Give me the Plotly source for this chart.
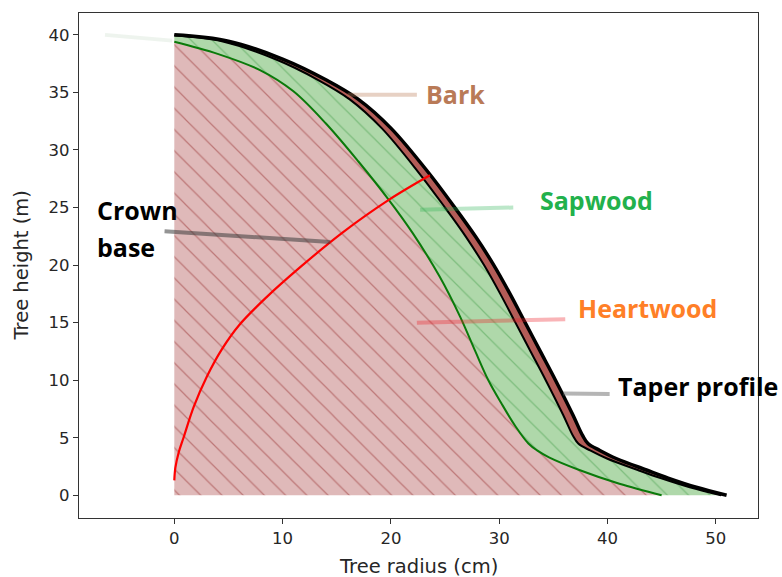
import plotly.graph_objects as go

# ---- data ----
taper_h = [0, 0.7, 1.5, 2.2, 3.2, 3.9, 4.5, 5.2, 7, 10, 12.5, 15, 17.5, 20, 22.5, 25, 28,
           31.9, 34.4, 36.1, 37.9, 39.45, 40]
outer_r = [51.0, 48.2, 45.6, 43.6, 40.8, 39.3, 38.2, 37.7, 36.8, 35.2, 33.8, 32.4, 31.0, 29.5,
           27.8, 25.9, 23.5, 20.0, 17.0, 14.0, 10.0, 5.0, 0.0]
inner_h = [0, 0.7, 1.5, 2.2, 3.2, 3.9, 4.5, 5.2, 7, 10, 12.5, 15, 17.5, 20, 22.5, 25, 28,
           31.9, 34.4, 36.1, 37.9, 39.45, 39.95]
inner_r = [50.5, 47.6, 44.9, 42.8, 39.95, 38.4, 37.3, 36.8, 35.9, 34.3, 32.9, 31.5, 30.1, 28.6,
           26.9, 25.0, 22.6, 19.15, 16.2, 13.25, 9.3, 4.4, 0.0]

heart_h = [0, 1, 2.2, 3.3, 3.9, 4.5, 6.0, 8, 10, 12.5, 15.5, 19, 22.8, 25.8, 29, 32.3, 35.1,
           36.9, 38.35, 39.4]
heart_r = [45.0, 41.1, 37.4, 34.6, 33.5, 32.7, 31.5, 30.2, 29.0, 27.8, 26.4, 24.5, 22.0, 19.7,
           17.0, 14.0, 11.0, 8.0, 4.0, 0.0]

crown_r = [0.0, 0.1, 0.4, 0.85, 1.8, 3.0, 4.4, 6.0, 8.5, 11.6, 15.5, 19.7, 23.6]
crown_h = [1.3, 2.4, 3.7, 5.0, 7.7, 10.3, 12.7, 14.8, 17.2, 19.8, 22.8, 25.6, 27.8]

x_ticks = [0, 10, 20, 30, 40, 50]
y_ticks = [0, 5, 10, 15, 20, 25, 30, 35, 40]

fig = go.Figure()

# heartwood (red hatched) and its boundary
fig.add_trace(go.Scatter(
    x=heart_r, y=heart_h, mode="lines", fill="tozerox",
    line=dict(color="#0a7a0a", width=2, shape="spline", smoothing=1.0),
    fillpattern=dict(shape="\\", size=15, solidity=0.08, fgcolor="#bd7777",
                     bgcolor="#dfb9b9", fillmode="replace"),
    hoverinfo="skip"))

# sapwood (green hatched) up to inner bark
fig.add_trace(go.Scatter(
    x=inner_r, y=inner_h, mode="lines", fill="tonextx",
    line=dict(color="black", width=2, shape="spline", smoothing=1.0),
    fillpattern=dict(shape="\\", size=15, solidity=0.08, fgcolor="#7dbd7d",
                     bgcolor="#afd8aa", fillmode="replace"),
    hoverinfo="skip"))

# bark and taper profile
fig.add_trace(go.Scatter(
    x=outer_r, y=taper_h, mode="lines", fill="tonextx", fillcolor="#b35c57",
    line=dict(color="black", width=3.5, shape="spline", smoothing=1.0),
    hoverinfo="skip"))

# crown base line
fig.add_trace(go.Scatter(
    x=crown_r, y=crown_h, mode="lines",
    line=dict(color="#ff0000", width=2.2, shape="spline", smoothing=1.0),
    hoverinfo="skip"))

# leader strokes (semi-transparent)
leaders = [
    (-6.4, 40.0, -0.2, 39.5, "rgba(170,200,170,0.2)"),
    (16.0, 34.8, 22.4, 34.8, "rgba(185,122,87,0.35)"),
    (22.7, 24.8, 31.3, 25.0, "rgba(34,177,76,0.3)"),
    (22.4, 15.0, 36.1, 15.3, "rgba(237,28,36,0.33)"),
    (35.9, 8.85, 40.2, 8.8, "rgba(90,90,90,0.45)"),
    (-0.9, 22.95, 14.4, 22.0, "rgba(60,60,60,0.55)"),
]
for x0, y0, x1, y1, c in leaders:
    fig.add_shape(type="line", x0=x0, y0=y0, x1=x1, y1=y1, xref="x", yref="y",
                  line=dict(color=c, width=4), layer="above")

lab_font = "'Open Sans', sans-serif"
labels = [
    (26.0, 34.9, "Bark", "#b97a57", "center"),
    (39.0, 25.65, "Sapwood", "#22b14c", "center"),
    (43.7, 16.3, "Heartwood", "#ff7f27", "center"),
    (48.4, 9.5, "Taper profile", "black", "center"),
    (-7.3, 24.8, "Crown", "black", "left"),
    (-7.3, 21.6, "base", "black", "left"),
]
for x, y, t, c, anc in labels:
    fig.add_annotation(x=x, y=y, xref="x", yref="y", text="<b>" + t + "</b>",
                       showarrow=False, xanchor=anc, yanchor="middle",
                       font=dict(family=lab_font, size=25, color=c))

tick_font = dict(family="'DejaVu Sans', sans-serif", size=16.5, color="#262626")
fig.add_annotation(x=-0.084, y=0.5, xref="paper", yref="paper", text="Tree height (m)",
                   textangle=-90, showarrow=False, xanchor="center", yanchor="middle",
                   font=dict(family="'DejaVu Sans', sans-serif", size=19.5, color="#262626"))
fig.add_annotation(x=0.5, y=-0.097, xref="paper", yref="paper", text="Tree radius (cm)",
                   showarrow=False, xanchor="center", yanchor="middle",
                   font=dict(family="'DejaVu Sans', sans-serif", size=19.5, color="#262626"))

axis_common = dict(showgrid=False, zeroline=False, showline=True, mirror=True,
                   linecolor="#333333", linewidth=1.2, ticks="outside", ticklen=5,
                   tickwidth=1.2, tickcolor="#333333", tickfont=tick_font)
fig.update_xaxes(range=[-8.8, 53.9], tickvals=x_ticks, **axis_common)
fig.update_yaxes(range=[-1.97, 41.9], tickvals=y_ticks, **axis_common)

fig.update_layout(width=782, height=577, margin=dict(l=79, r=24, t=13, b=59),
                  plot_bgcolor="white", paper_bgcolor="white", showlegend=False)

fig.write_html("out.html", config={"displayModeBar": False},
               post_script="document.body.style.margin='0';document.body.style.overflow='hidden';")
